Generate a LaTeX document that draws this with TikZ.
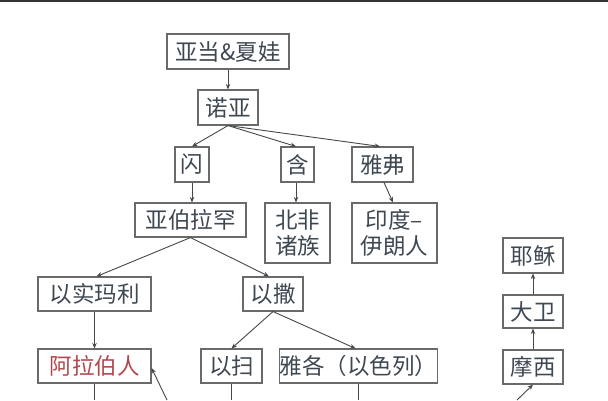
\documentclass[tikz,border=0pt]{standalone}
\usepackage{fontspec}
\newfontfamily\cjk{Noto Sans CJK SC}
\usetikzlibrary{arrows.meta}
\definecolor{txt}{HTML}{3E4852}
\definecolor{redtxt}{HTML}{B3474E}
\definecolor{boxline}{HTML}{6A6A6A}
\definecolor{conn}{HTML}{474747}
\definecolor{topbar}{HTML}{333333}
\begin{document}
\begin{tikzpicture}[x=1pt,y=-1pt,
  box/.style={draw=boxline, line width=1.1pt, fill=white, inner sep=0pt,
    font=\cjk\fontsize{22.5}{26}\selectfont, text=txt, align=center,
    minimum height=35pt},
  conn/.style={draw=conn, line width=0.9pt, -{Stealth[length=5.5pt,width=4.5pt]}},
  plain/.style={draw=conn, line width=0.9pt}]
\useasboundingbox (0,0) rectangle (608,400);
\fill[white] (0,0) rectangle (608,400);
\fill[topbar] (0,0) rectangle (608,1.6);
% nodes
\node[box, minimum width=122pt] (adam) at (228,51.5) {亚当\&夏娃};
\node[box, minimum width=60pt] (noah) at (228,107.5) {诺亚};
\node[box, minimum width=34pt] (shem) at (192,164.5) {闪};
\node[box, minimum width=33pt] (ham) at (297.5,164.5) {含};
\node[box, minimum width=61pt] (japheth) at (382.5,164.5) {雅弗};
\node[box, minimum width=111pt, minimum height=34pt] (abraham) at (190.5,220) {亚伯拉罕};
\node[box, minimum width=65pt, minimum height=60pt] (nafrica) at (297.5,233) {北非\\诸族};
\node[box, minimum width=85pt, minimum height=60pt] (indoiran) at (394.5,233) {印度–\\伊朗人};
\node[box, minimum width=60pt] (jesus) at (533,255.5) {耶稣};
\node[box, minimum width=113pt, minimum height=34pt] (ishmael) at (94.5,294) {以实玛利};
\node[box, minimum width=60pt, minimum height=34pt] (isaac) at (273,294) {以撒};
\node[box, minimum width=60pt, minimum height=33pt] (david) at (533,311.5) {大卫};
\node[box, minimum width=113pt, minimum height=34pt, text=redtxt] (arabs) at (94.5,366) {阿拉伯人};
\node[box, minimum width=61pt, minimum height=34pt] (esau) at (231.5,366) {以扫};
\node[box, minimum width=145pt, minimum height=34pt] (jacob) at (358.5,366) {雅各（以色列）};
\node[box, minimum width=60pt, minimum height=34pt] (moses) at (533,367) {摩西};
% free ends at the bottom edge
\coordinate (arabsdown) at (94.5,400);
\coordinate (esaudown) at (231.5,400);
\coordinate (jacobdown) at (358.5,400);
\coordinate (arabsin) at (167,400);
\coordinate (mosesin) at (517,400);
% connectors
\draw[conn] (adam.south) -- (noah.north);
\draw[conn] (noah.south) -- (shem.north);
\draw[conn] (noah.south) -- ([xshift=-1.5pt]ham.north);
\draw[conn] (noah.south) -- ([xshift=-2.5pt]japheth.north);
\draw[conn] (shem.south) -- (shem.south |- abraham.north);
\draw[conn] ([xshift=-1.5pt]ham.south) -- ([xshift=-1.5pt]nafrica.north);
\draw[conn] ([xshift=1.5pt]japheth.south) -- ([xshift=-1.5pt]indoiran.north);
\draw[conn] (abraham.south) -- ([xshift=2pt]ishmael.north);
\draw[conn] (abraham.south) -- ([xshift=-4pt]isaac.north);
\draw[conn] (ishmael.south) -- (arabs.north);
\draw[conn] (isaac.south) -- (esau.north);
\draw[conn] (isaac.south) -- ([xshift=-3pt]jacob.north);
\draw[conn] (moses.north) -- (david.south);
\draw[conn] (david.north) -- (jesus.south);
\draw[plain] (arabs.south) -- (arabsdown);
\draw[plain] (esau.south) -- (esaudown);
\draw[plain] (jacob.south) -- (jacobdown);
\draw[conn] (arabsin) -- ([yshift=-2pt]arabs.east);
\draw[conn] (mosesin) -- (moses.south);
\end{tikzpicture}
\end{document}
